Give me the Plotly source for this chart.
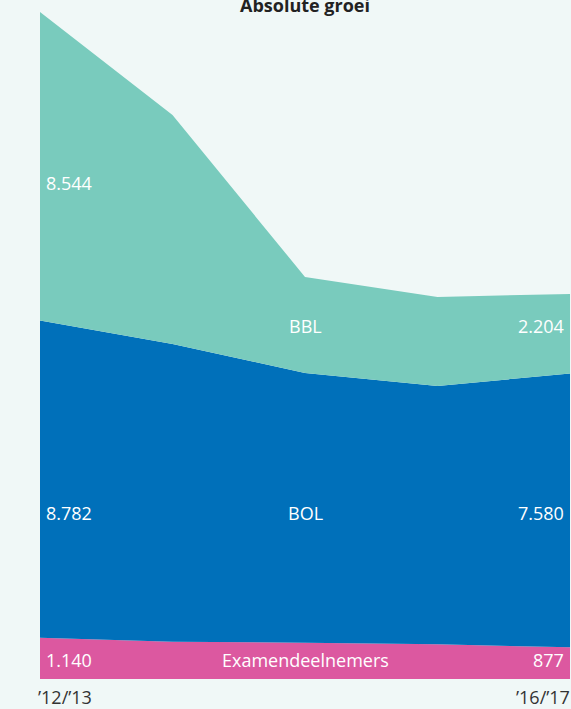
import plotly.graph_objects as go

years = ["’12/’13", "’13/’14", "’14/’15", "’15/’16", "’16/’17"]
examen = [1140, 1033, 1005, 961, 877]
bol = [8782, 8242, 7467, 7151, 7580]
bbl = [8544, 6340, 2658, 2464, 2204]

# vertical positions (data units) of the in-band labels
label_rows = {"bbl_left": 13730, "bbl": 9780, "bol": 4600, "examen": 530}

BG = "#f0f8f7"
C_PINK = "#dc58a0"
C_BLUE = "#0070ba"
C_TEAL = "#79cbbd"
FONT = "Open Sans"

x = list(range(len(years)))
fig = go.Figure()
for name, vals, col in [("Examendeelnemers", examen, C_PINK), ("BOL", bol, C_BLUE), ("BBL", bbl, C_TEAL)]:
    fig.add_trace(go.Scatter(x=x, y=vals, name=name, stackgroup="s", mode="none",
                             fillcolor=col, line=dict(width=0), hoverinfo="skip"))

def fmt(v):
    return f"{v:,}".replace(",", ".")

total_max = examen[0] + bol[0] + bbl[0]
ann = []
wf = dict(family=FONT, size=18, color="white")
last = len(years) - 1
mid = last / 2
ann += [
    dict(x=0, y=label_rows["bbl_left"], text=fmt(bbl[0]), xanchor="left", xshift=4, font=wf),
    dict(x=mid, y=label_rows["bbl"], text="BBL", xanchor="center", font=wf),
    dict(x=last, y=label_rows["bbl"], text=fmt(bbl[-1]), xanchor="right", xshift=-4, font=wf),
    dict(x=0, y=label_rows["bol"], text=fmt(bol[0]), xanchor="left", xshift=4, font=wf),
    dict(x=mid, y=label_rows["bol"], text="BOL", xanchor="center", font=wf),
    dict(x=last, y=label_rows["bol"], text=fmt(bol[-1]), xanchor="right", xshift=-4, font=wf),
    dict(x=0, y=label_rows["examen"], text=fmt(examen[0]), xanchor="left", xshift=4, font=wf),
    dict(x=mid, y=label_rows["examen"], text="Examendeelnemers", xanchor="center", font=wf),
    dict(x=last, y=label_rows["examen"], text=fmt(examen[-1]), xanchor="right", xshift=-4, font=wf),
]
for a in ann:
    a.update(xref="x", yref="y", showarrow=False, yanchor="middle")

tf = dict(family=FONT, size=18, color="#333333")
ann += [
    dict(x=0, y=0, xref="x", yref="paper", text=years[0], xanchor="left", yanchor="top",
         xshift=-4, yshift=-4, showarrow=False, font=tf),
    dict(x=last, y=0, xref="x", yref="paper", text=years[-1], xanchor="right", yanchor="top",
         xshift=2, yshift=-4, showarrow=False, font=tf),
    dict(x=mid, y=1, xref="x", yref="paper", text="<b>Absolute groei</b>", xanchor="center",
         yanchor="middle", yshift=7, showarrow=False,
         font=dict(family=FONT, size=18, color="#222222")),
]

fig.update_layout(
    width=571, height=709,
    margin=dict(l=40, r=1, t=12, b=30),
    paper_bgcolor=BG, plot_bgcolor=BG,
    showlegend=False,
    xaxis=dict(range=[0, last], visible=False, fixedrange=True),
    yaxis=dict(range=[0, total_max], visible=False, fixedrange=True),
    annotations=ann,
)
fig.write_html(
    "out.html",
    config={"displayModeBar": False},
    post_script="document.body.style.margin='0';document.body.style.overflow='hidden';",
)
